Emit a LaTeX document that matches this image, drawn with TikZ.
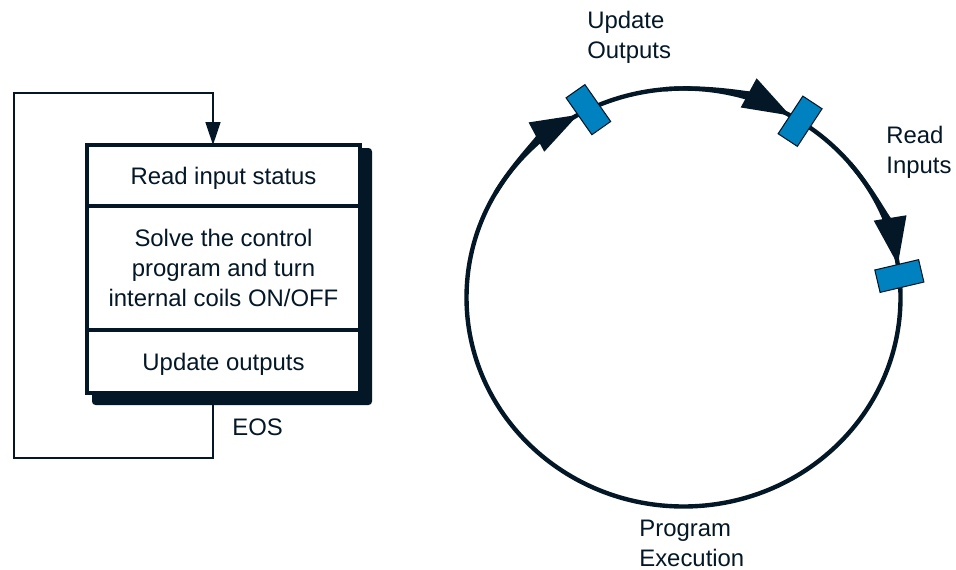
\documentclass[tikz,border=0pt]{standalone}
\usepackage{fontspec}
\setmainfont{Liberation Sans}
\usetikzlibrary{arrows.meta,positioning}
\definecolor{ink}{RGB}{3,23,38}
\definecolor{plcblue}{RGB}{0,130,192}
\tikzset{
	cell/.style={draw=ink,fill=white,line width=2.3pt,outer sep=0pt,inner sep=0pt,minimum width=5.46cm,align=center,text=ink},
	lbl/.style={text=ink,align=left,inner sep=0pt,anchor=west},
	slot/.style={draw=ink,fill=plcblue,line width=0.6pt,minimum width=0.9cm,minimum height=0.46cm,inner sep=0pt},
	scanline/.style={draw=ink,line width=2.5pt},
	scantip/.style={scanline,-{Triangle[length=0.95cm,width=0.64cm]}},
	loopline/.style={draw=ink,line width=0.85pt,-{Triangle[length=0.46cm,width=0.3cm]}}
}

\begin{document}
\begin{tikzpicture}[x=0.02cm,y=0.02cm,font=\fontsize{13.6}{17}\selectfont]
	\useasboundingbox (0,0) rectangle (956,569);

	% scan steps
	\fill[ink,rounded corners=2] (92,421) rectangle (372,164);
	\node[cell,minimum height=1.22cm,text depth=0pt] (read) at (223.5,393.5) {Read input status};
	\node[cell,minimum height=2.48cm,below=0pt of read] (solve) {Solve the control\\program and turn\\internal coils ON/OFF};
	\node[cell,minimum height=1.26cm,text depth=0pt,below=0pt of solve] (upd) {Update outputs};

	\coordinate (outlet) at ([xshift=-0.21cm]upd.south);
	\coordinate (inlet) at ([xshift=-0.21cm]read.north);
	\coordinate (lowleft) at (14,111);
	\coordinate (upleft) at (14,476);
	\draw[loopline] (outlet) -- (outlet |- lowleft) -- (lowleft) -- (upleft) -- (upleft -| inlet) -- (inlet);
	\node[lbl] (eos) at (232,142) {EOS};

	% scan cycle
	\coordinate (hub) at (683.5,271.5);
	\draw[scanline] (hub) ellipse [x radius=217,y radius=209];
	\draw[scantip] (hub) ++(150:217 and 209) arc[start angle=150,end angle=119,x radius=217,y radius=209];
	\draw[scantip] (hub) ++(95:217 and 209) arc[start angle=95,end angle=60.5,x radius=217,y radius=209];
	\draw[scantip] (hub) ++(40:217 and 209) arc[start angle=40,end angle=9,x radius=217,y radius=209];

	\node[slot,rotate=125] (outs) at ([shift={(116:217 and 209)}]hub) {};
	\node[slot,rotate=56.7] (mid) at ([shift={(57.5:217 and 209)}]hub) {};
	\node[slot,rotate=13.3] (ins) at ([shift={(5.9:217 and 209)}]hub) {};

	\node[lbl] (outslbl) at (587,532) {Update\\Outputs};
	\node[lbl] (inslbl) at (886,417) {Read\\Inputs};
	\node[lbl] (execlbl) at (639,25.5) {Program\\Execution};

	% \draw[help lines,step=50] (0,0) grid (956,569);
\end{tikzpicture}
\end{document}
